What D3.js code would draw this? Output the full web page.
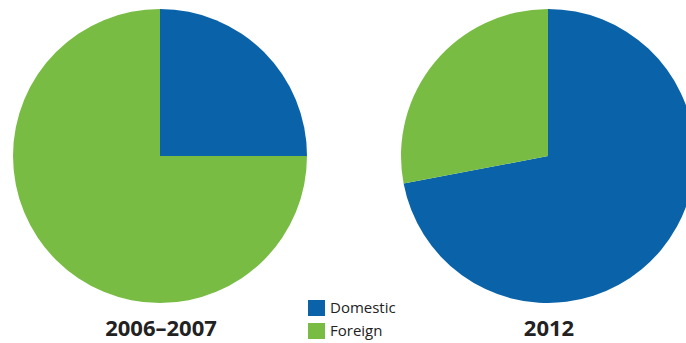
<!DOCTYPE html>
<html>
<head>
<meta charset="utf-8">
<script src="https://cdn.jsdelivr.net/npm/d3@7"></script>
<style>
  body { margin: 0; background: #fff; }
  svg { display: block; }
</style>
</head>
<body>
<div id="chart"></div>
<script>
let width = 686;
let height = 343;

// data
let categories = ["Domestic", "Foreign"];
let periods = ["2006–2007", "2012"];
let share2006 = [25, 75];
let share2012 = [72, 28];

let colors = ["#0a63a9", "#78bc43"];

let svg = d3.select("#chart")
  .append("svg")
    .attr("width", width)
    .attr("height", height);

let colorScale = d3.scaleOrdinal().domain(categories).range(colors);

let radius = 147;
let centers = [[160, 156], [548, 156]];
let allShares = [share2006, share2012];

// domestic starts at 12 o'clock and runs clockwise
let pie = d3.pie().sort(null).value(d => d.value);
let arc = d3.arc().innerRadius(0).outerRadius(radius);

allShares.forEach(function(shares, i){
  let rows = categories.map((c, j) => ({cat: c, value: shares[j]}));

  let g = svg.append("g")
    .attr("transform", "translate(" + centers[i][0] + "," + centers[i][1] + ")");

  g.selectAll("path").data(pie(rows)).enter()
    .append("path")
      .attr("d", arc)
      .attr("fill", d => colorScale(d.data.cat));

  svg.append("text")
    .attr("x", centers[i][0] + 1)
    .attr("y", 336)
    .attr("text-anchor", "middle")
    .style("font-family", "'Open Sans', 'DejaVu Sans', sans-serif")
    .style("font-weight", "bold")
    .style("font-size", "22px")
    .style("fill", "#222")
    .text(periods[i]);
});

// legend
let legend = svg.selectAll(".legend").data(categories).enter()
  .append("g")
    .attr("class", "legend")
    .attr("transform", (d, i) => "translate(308," + (300 + i * 23) + ")");

legend.append("rect")
  .attr("width", 17)
  .attr("height", 16)
  .attr("fill", d => colorScale(d));

legend.append("text")
  .attr("x", 22)
  .attr("y", 13)
  .style("font-family", "'Open Sans', sans-serif")
  .style("font-size", "15px")
  .style("fill", "#222")
  .text(d => d);
</script>
</body>
</html>
